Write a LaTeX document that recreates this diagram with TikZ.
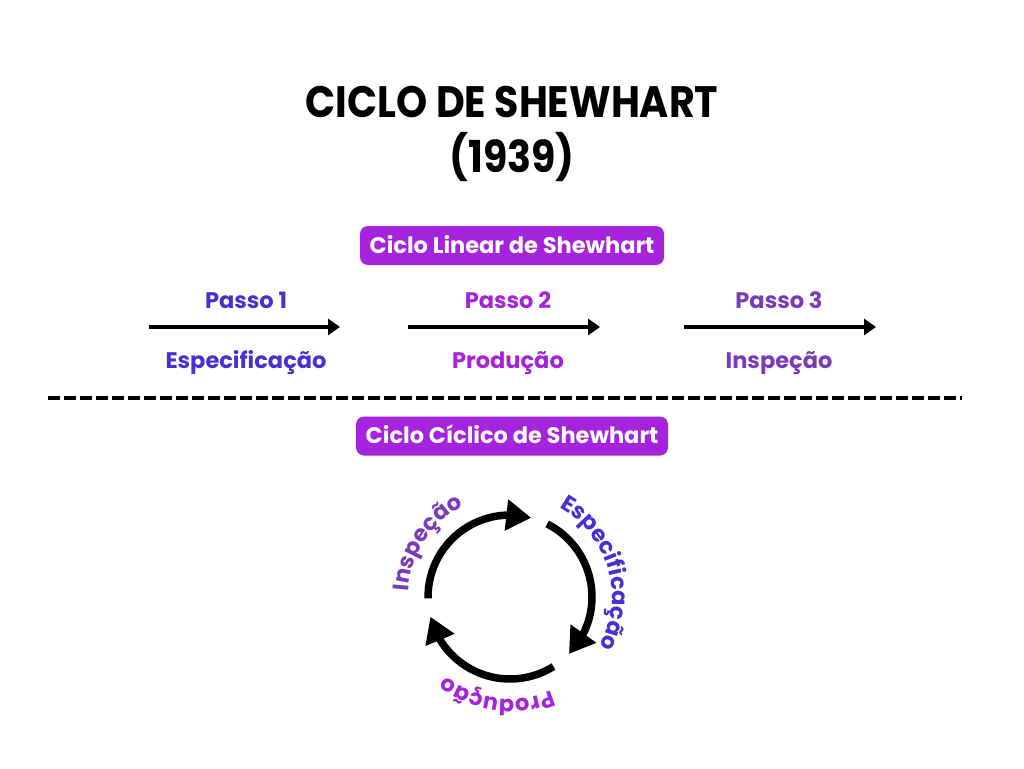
\documentclass[tikz,border=0pt]{standalone}
\usepackage{fontspec}
\usepackage{graphicx}
\setmainfont{Poppins}
\usetikzlibrary{arrows.meta,bending,decorations.text,calc}
\definecolor{cblue}{HTML}{4A2FD3}
\definecolor{cmag}{HTML}{A523DA}
\definecolor{cpur}{HTML}{7B3AB9}
\definecolor{boxfill}{HTML}{A623DD}
\newcommand{\lblsize}{\fontsize{22.5}{27}\selectfont\bfseries}
\begin{document}
\begin{tikzpicture}[x=1pt,y=1pt,
  titlefont/.style={font=\fontsize{44}{55}\selectfont\bfseries, anchor=base, inner sep=0pt},
  lbl/.style={font=\lblsize, anchor=base, inner sep=0pt},
  headbox/.style={fill=boxfill, rounded corners=8pt, text=white, inner sep=0pt,
    font=\lblsize, text height=15.7pt, text depth=0pt, minimum height=39pt},
  larrow/.style={line width=4pt, -{Triangle[length=12pt,width=16pt]}},
  carrow/.style={line width=7.5pt, -{Triangle[length=25pt,width=30pt,flex]}},
  sep/.style={line width=3.5pt, dash pattern=on 11.5pt off 4.5pt}
]
\useasboundingbox (0,0) rectangle (1024,-768);
\fill[white] (0,0) rectangle (1024,-768);

% title
\node[titlefont] (t1) at (512,-117) {\scalebox{0.9}[1]{CICLO DE SHEWHART}};
\node[titlefont] (t2) at (512,-172) {\scalebox{0.9}[1]{(1939)}};

% linear cycle
\node[headbox, minimum width=304pt] (h1) at (512,-245.5) {Ciclo Linear de Shewhart};

\node[lbl, text=cblue] (p1) at (246,-308) {Passo 1};
\node[lbl, text=cmag]  (p2) at (508,-308) {Passo 2};
\node[lbl, text=cpur]  (p3) at (779,-308) {Passo 3};

\coordinate (a1s) at (149,-327); \coordinate (a1e) at (340,-327);
\coordinate (a2s) at (408,-327); \coordinate (a2e) at (600,-327);
\coordinate (a3s) at (684,-327); \coordinate (a3e) at (876,-327);
\draw[larrow] (a1s) -- (a1e);
\draw[larrow] (a2s) -- (a2e);
\draw[larrow] (a3s) -- (a3e);

\node[lbl, text=cblue] (s1) at (246,-368) {Especificação};
\node[lbl, text=cmag]  (s2) at (508,-368) {Produção};
\node[lbl, text=cpur]  (s3) at (779,-368) {Inspeção};

% separator
\coordinate (ds) at (48,-398); \coordinate (de) at (962,-398);
\draw[sep] (ds) -- (de);

% cyclic
\node[headbox, minimum width=312pt] (h2) at (512,-436) {Ciclo Cíclico de Shewhart};

\coordinate (c) at (510,-597);
\draw[carrow] ($(c)+(181:82)$) arc[start angle=181, end angle=75, radius=82];
\draw[carrow] ($(c)+(63:82)$) arc[start angle=63, end angle=-44, radius=82];
\draw[carrow] ($(c)+(-58:82)$) arc[start angle=-58, end angle=-166, radius=82];

\path[decorate, decoration={text along path, text align=center, text color=cpur,
  text={|\lblsize|Inspeção}}]
  ($(c)+(217:102)$) arc[start angle=217, end angle=77, radius=102];
\path[decorate, decoration={text along path, text align=center, text color=cblue,
  text={|\lblsize|Especificação}}]
  ($(c)+(86:102)$) arc[start angle=86, end angle=-54, radius=102];
\path[decorate, decoration={text along path, text align=center, text color=cmag,
  text={|\lblsize|Produção}}]
  ($(c)+(-27.5:102)$) arc[start angle=-27.5, end angle=-167.5, radius=102];
\end{tikzpicture}
\end{document}
